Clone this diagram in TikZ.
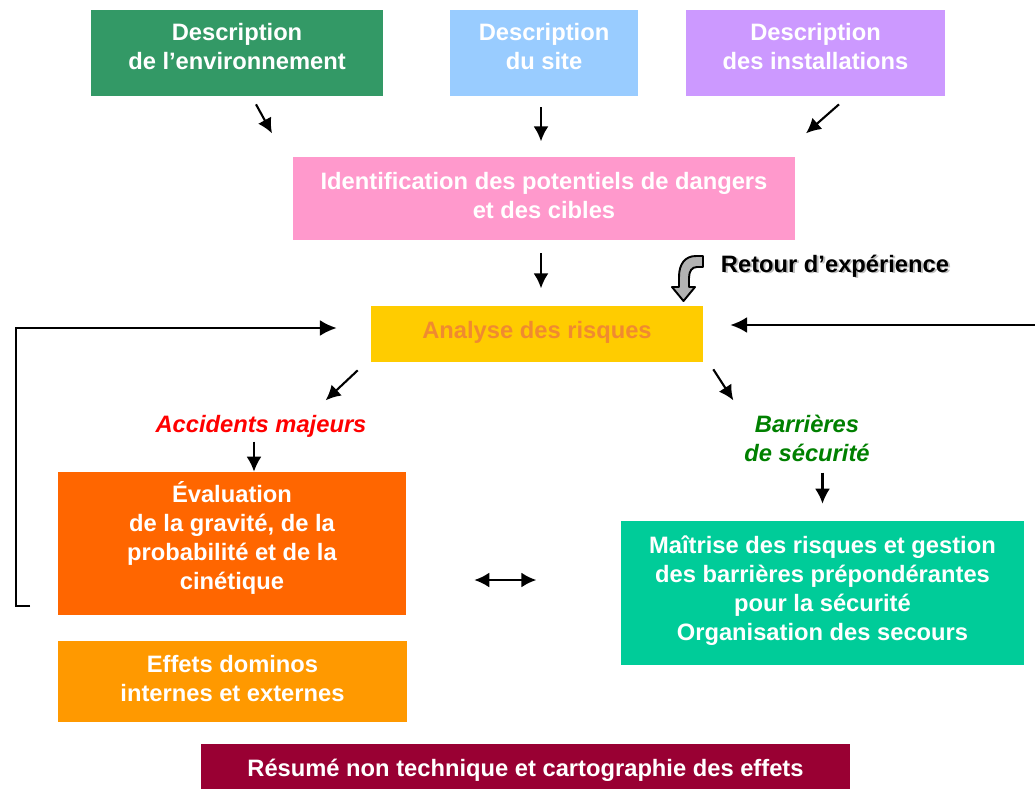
\documentclass[tikz,border=0pt]{standalone}
\usepackage{fontspec}
\setmainfont{Liberation Sans}
\usetikzlibrary{arrows.meta}

\definecolor{envgreen}{HTML}{339966}
\definecolor{siteblue}{HTML}{99CCFF}
\definecolor{instlilac}{HTML}{CC99FF}
\definecolor{identpink}{HTML}{FF99CC}
\definecolor{analyellow}{HTML}{FFCC00}
\definecolor{analytext}{HTML}{F08A30}
\definecolor{evalorange}{HTML}{FF6600}
\definecolor{dominoorange}{HTML}{FF9900}
\definecolor{maitrisegreen}{HTML}{00CC99}
\definecolor{resumered}{HTML}{990033}
\definecolor{barrgreen}{HTML}{008000}

\begin{document}
\begin{tikzpicture}[
  x=0.02cm, y=-0.02cm,
  box/.style={
    rectangle, fill=#1, inner sep=0pt
  },
  boxtext/.style={
    text=white, align=center, inner sep=0pt,
    font=\bfseries\fontsize{13.5}{16.5}\selectfont
  },
  lbl/.style={
    align=center, inner sep=1pt,
    font=\bfseries\fontsize{13.5}{16.5}\selectfont
  },
  arr/.style={-{Latex[length=8.5pt,width=8.5pt]}, line width=1.2pt},
  longarr/.style={-{Latex[length=9.5pt,width=9pt]}, line width=1.2pt}
  ]
  \useasboundingbox (0,0) rectangle (1035,789);

  % descriptions
  \node[box=envgreen, minimum width=5.84cm, minimum height=1.72cm,
    label={[boxtext, yshift=0.12cm]center:{Description\\de l’environnement}}] (env) at (237,53) {};
  \node[box=siteblue, minimum width=3.76cm, minimum height=1.72cm,
    label={[boxtext, yshift=0.12cm]center:{Description\\du site}}] (site) at (544,53) {};
  \node[box=instlilac, minimum width=5.18cm, minimum height=1.72cm,
    label={[boxtext, yshift=0.12cm]center:{Description\\des installations}}] (inst) at (815.5,53) {};

  \node[box=identpink, minimum width=10.04cm, minimum height=1.66cm,
    label={[boxtext, yshift=0.06cm]center:{Identification des potentiels de dangers\\et des cibles}}]
    (ident) at (544,198.5) {};

  \node[box=analyellow, minimum width=6.64cm, minimum height=1.12cm,
    label={[boxtext, text=analytext, yshift=0.04cm]center:{Analyse des risques}}] (analyse) at (537,334) {};

  % retour d'experience
  \node[lbl, text=black!25] (retourShadow) at (837,267.5) {Retour d’expérience};
  \node[lbl] (retour) at (835,266) {Retour d’expérience};
  \draw[line width=1.1pt, fill=black!30, line join=round]
    (703,256) -- (696,256) .. controls (685,256) and (679,264) .. (679,277)
    -- (679,287) -- (672,287) -- (683.5,301) -- (695,287) -- (689,287)
    -- (689,278) .. controls (689,271) and (692,267) .. (697,267)
    -- (703,267) -- cycle;

  % branches
  \node[lbl, text=red, font=\bfseries\itshape\fontsize{13.5}{16.5}\selectfont] (acc) at (261,426)
    {Accidents majeurs};
  \node[lbl, text=barrgreen, font=\bfseries\itshape\fontsize{13.5}{16.5}\selectfont] (barr) at (807,438)
    {Barrières\\de sécurité};

  \node[box=evalorange, minimum width=6.96cm, minimum height=2.86cm,
    label={[boxtext, yshift=0.12cm]center:{Évaluation\\de la gravité, de la\\probabilité et de la\\cinétique}}]
    (eval) at (232,543.5) {};
  \node[box=dominoorange, minimum width=6.98cm, minimum height=1.62cm,
    label={[boxtext, yshift=0.06cm]center:{Effets dominos\\internes et externes}}] (effets) at (232.5,681.5) {};
  \node[box=maitrisegreen, minimum width=8.06cm, minimum height=2.88cm,
    label={[boxtext, yshift=0.05cm]center:{Maîtrise des risques et gestion\\des barrières prépondérantes\\pour la sécurité\\Organisation des secours}}]
    (maitrise) at (822.5,593) {};

  \node[box=resumered, minimum width=12.98cm, minimum height=0.9cm,
    label={[boxtext, yshift=-0.08cm]center:{Résumé non technique et cartographie des effets}}]
    (resume) at (525.5,766.5) {};

  % short arrows
  \draw[arr] ([shift={(19,8)}]env.south) -- ++(16,29);
  \draw[arr] ([shift={(-3,11)}]site.south) -- ++(0,34);
  \draw[arr] ([shift={(23.5,8)}]inst.south) -- ++(-33,29);
  \draw[arr] ([shift={(-3,13)}]ident.south) -- ++(0,35);
  \draw[arr] ([shift={(-13,8)}]analyse.south west) -- ++(-32,30);
  \draw[arr] ([shift={(22,-30)}]eval.north) -- ++(0,30);
  \draw[arr] ([shift={(10,7)}]analyse.south east) -- ++(20,31);
  \draw[arr] ([shift={(0,-48)}]maitrise.north) -- ++(0,31);
  \draw[{Latex[length=8.5pt,width=8.5pt]}-{Latex[length=8.5pt,width=8.5pt]}, line width=1.2pt]
    ([shift={(68,36.5)}]eval.east) -- ++(62,0);

  % feedback loops
  \coordinate (loopL) at (30,606);
  \draw[longarr] (loopL) -- (16,606) -- (16,328) -- ([shift={(-34,-6)}]analyse.west);
  \coordinate (loopR) at (1035,325);
  \draw[longarr] (loopR) -- ([shift={(27,-9)}]analyse.east);
\end{tikzpicture}
\end{document}
